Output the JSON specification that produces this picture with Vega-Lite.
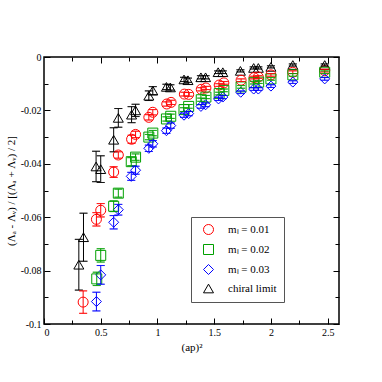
{
  "$schema": "https://vega.github.io/schema/vega-lite/v6.json",
  "autosize": "none",
  "width": 295,
  "height": 267,
  "padding": {"left": 44, "top": 57, "right": 43, "bottom": 58},
  "background": "white",
  "config": {
    "view": {"stroke": "#000", "strokeWidth": 1.5},
    "font": "Liberation Serif",
    "axis": {"grid": false, "domain": false, "ticks": true, "zindex": 2, "labelFont": "Liberation Serif", "titleFont": "Liberation Serif", "labelFontSize": 10, "titleFontSize": 11, "labelColor": "#000", "titleColor": "#000", "titleFontWeight": "normal", "tickColor": "#000", "tickWidth": 1, "tickOpacity": 1},
    "legend": {"labelFont": "Liberation Serif"}
  },
  "data": {"values": [
    {"s": "chiral limit", "x": 0.307, "y": -0.0778, "e": 0.0095},
    {"s": "chiral limit", "x": 0.348, "y": -0.0675, "e": 0.009},
    {"s": "chiral limit", "x": 0.459, "y": -0.041, "e": 0.0057},
    {"s": "chiral limit", "x": 0.5, "y": -0.042, "e": 0.005},
    {"s": "chiral limit", "x": 0.614, "y": -0.031, "e": 0.0045},
    {"s": "chiral limit", "x": 0.655, "y": -0.0228, "e": 0.0035},
    {"s": "chiral limit", "x": 0.772, "y": -0.0216, "e": 0.003},
    {"s": "chiral limit", "x": 0.807, "y": -0.02, "e": 0.0023},
    {"s": "chiral limit", "x": 0.924, "y": -0.0145, "e": 0.0018},
    {"s": "chiral limit", "x": 0.959, "y": -0.0126, "e": 0.0015},
    {"s": "chiral limit", "x": 1.079, "y": -0.0112, "e": 0.001},
    {"s": "chiral limit", "x": 1.114, "y": -0.0114, "e": 0.001},
    {"s": "chiral limit", "x": 1.234, "y": -0.0084, "e": 0.0008},
    {"s": "chiral limit", "x": 1.269, "y": -0.0087, "e": 0.0008},
    {"s": "chiral limit", "x": 1.383, "y": -0.0076, "e": 0.0006},
    {"s": "chiral limit", "x": 1.424, "y": -0.0076, "e": 0.0006},
    {"s": "chiral limit", "x": 1.535, "y": -0.0057, "e": 0.0005},
    {"s": "chiral limit", "x": 1.576, "y": -0.0057, "e": 0.0005},
    {"s": "chiral limit", "x": 1.731, "y": -0.0052, "e": 0.0004},
    {"s": "chiral limit", "x": 1.848, "y": -0.0041, "e": 0.0004},
    {"s": "chiral limit", "x": 1.889, "y": -0.0041, "e": 0.0004},
    {"s": "chiral limit", "x": 2.0, "y": -0.0037, "e": 0.0004},
    {"s": "chiral limit", "x": 2.193, "y": -0.003, "e": 0.0004},
    {"s": "chiral limit", "x": 2.474, "y": -0.003, "e": 0.0004},
    {"s": "mₗ = 0.01", "x": 0.345, "y": -0.0918, "e": 0.0042},
    {"s": "mₗ = 0.01", "x": 0.462, "y": -0.0608, "e": 0.0025},
    {"s": "mₗ = 0.01", "x": 0.5, "y": -0.0574, "e": 0.0025},
    {"s": "mₗ = 0.01", "x": 0.614, "y": -0.0431, "e": 0.002},
    {"s": "mₗ = 0.01", "x": 0.655, "y": -0.0367, "e": 0.0012},
    {"s": "mₗ = 0.01", "x": 0.772, "y": -0.0308, "e": 0.0015},
    {"s": "mₗ = 0.01", "x": 0.807, "y": -0.029, "e": 0.0012},
    {"s": "mₗ = 0.01", "x": 0.924, "y": -0.0226, "e": 0.001},
    {"s": "mₗ = 0.01", "x": 0.959, "y": -0.0207, "e": 0.001},
    {"s": "mₗ = 0.01", "x": 1.082, "y": -0.0176, "e": 0.0008},
    {"s": "mₗ = 0.01", "x": 1.12, "y": -0.017, "e": 0.0008},
    {"s": "mₗ = 0.01", "x": 1.237, "y": -0.0139, "e": 0.0007},
    {"s": "mₗ = 0.01", "x": 1.275, "y": -0.014, "e": 0.0007},
    {"s": "mₗ = 0.01", "x": 1.386, "y": -0.0121, "e": 0.0006},
    {"s": "mₗ = 0.01", "x": 1.427, "y": -0.0116, "e": 0.0006},
    {"s": "mₗ = 0.01", "x": 1.544, "y": -0.0105, "e": 0.0005},
    {"s": "mₗ = 0.01", "x": 1.585, "y": -0.0097, "e": 0.0005},
    {"s": "mₗ = 0.01", "x": 1.737, "y": -0.0087, "e": 0.0005},
    {"s": "mₗ = 0.01", "x": 1.851, "y": -0.0077, "e": 0.0005},
    {"s": "mₗ = 0.01", "x": 1.889, "y": -0.0075, "e": 0.0005},
    {"s": "mₗ = 0.01", "x": 2.0, "y": -0.0067, "e": 0.0005},
    {"s": "mₗ = 0.01", "x": 2.193, "y": -0.0057, "e": 0.0005},
    {"s": "mₗ = 0.01", "x": 2.474, "y": -0.0051, "e": 0.0005},
    {"s": "mₗ = 0.02", "x": 0.465, "y": -0.0831, "e": 0.0025},
    {"s": "mₗ = 0.02", "x": 0.5, "y": -0.0743, "e": 0.0025},
    {"s": "mₗ = 0.02", "x": 0.614, "y": -0.0559, "e": 0.002},
    {"s": "mₗ = 0.02", "x": 0.655, "y": -0.051, "e": 0.0015},
    {"s": "mₗ = 0.02", "x": 0.769, "y": -0.0392, "e": 0.0015},
    {"s": "mₗ = 0.02", "x": 0.807, "y": -0.0375, "e": 0.0012},
    {"s": "mₗ = 0.02", "x": 0.924, "y": -0.03, "e": 0.001},
    {"s": "mₗ = 0.02", "x": 0.959, "y": -0.0285, "e": 0.001},
    {"s": "mₗ = 0.02", "x": 1.079, "y": -0.0232, "e": 0.0008},
    {"s": "mₗ = 0.02", "x": 1.117, "y": -0.0222, "e": 0.0008},
    {"s": "mₗ = 0.02", "x": 1.234, "y": -0.0197, "e": 0.0007},
    {"s": "mₗ = 0.02", "x": 1.275, "y": -0.0185, "e": 0.0007},
    {"s": "mₗ = 0.02", "x": 1.386, "y": -0.016, "e": 0.0006},
    {"s": "mₗ = 0.02", "x": 1.427, "y": -0.015, "e": 0.0006},
    {"s": "mₗ = 0.02", "x": 1.544, "y": -0.0137, "e": 0.0005},
    {"s": "mₗ = 0.02", "x": 1.585, "y": -0.0125, "e": 0.0005},
    {"s": "mₗ = 0.02", "x": 1.737, "y": -0.0112, "e": 0.0005},
    {"s": "mₗ = 0.02", "x": 1.851, "y": -0.0096, "e": 0.0005},
    {"s": "mₗ = 0.02", "x": 1.892, "y": -0.0094, "e": 0.0005},
    {"s": "mₗ = 0.02", "x": 2.0, "y": -0.0082, "e": 0.0005},
    {"s": "mₗ = 0.02", "x": 2.193, "y": -0.0067, "e": 0.0005},
    {"s": "mₗ = 0.02", "x": 2.474, "y": -0.0057, "e": 0.0005},
    {"s": "mₗ = 0.03", "x": 0.462, "y": -0.0916, "e": 0.0035},
    {"s": "mₗ = 0.03", "x": 0.5, "y": -0.0816, "e": 0.0035},
    {"s": "mₗ = 0.03", "x": 0.614, "y": -0.0619, "e": 0.0025},
    {"s": "mₗ = 0.03", "x": 0.655, "y": -0.0572, "e": 0.002},
    {"s": "mₗ = 0.03", "x": 0.769, "y": -0.0447, "e": 0.0015},
    {"s": "mₗ = 0.03", "x": 0.807, "y": -0.0424, "e": 0.0015},
    {"s": "mₗ = 0.03", "x": 0.924, "y": -0.0342, "e": 0.0012},
    {"s": "mₗ = 0.03", "x": 0.959, "y": -0.0325, "e": 0.0012},
    {"s": "mₗ = 0.03", "x": 1.079, "y": -0.0276, "e": 0.001},
    {"s": "mₗ = 0.03", "x": 1.117, "y": -0.0257, "e": 0.001},
    {"s": "mₗ = 0.03", "x": 1.234, "y": -0.0218, "e": 0.0008},
    {"s": "mₗ = 0.03", "x": 1.275, "y": -0.0212, "e": 0.0008},
    {"s": "mₗ = 0.03", "x": 1.383, "y": -0.0185, "e": 0.0007},
    {"s": "mₗ = 0.03", "x": 1.424, "y": -0.0179, "e": 0.0007},
    {"s": "mₗ = 0.03", "x": 1.538, "y": -0.0157, "e": 0.0006},
    {"s": "mₗ = 0.03", "x": 1.576, "y": -0.015, "e": 0.0006},
    {"s": "mₗ = 0.03", "x": 1.734, "y": -0.0132, "e": 0.0005},
    {"s": "mₗ = 0.03", "x": 1.848, "y": -0.012, "e": 0.0005},
    {"s": "mₗ = 0.03", "x": 1.889, "y": -0.012, "e": 0.0005},
    {"s": "mₗ = 0.03", "x": 2.0, "y": -0.0109, "e": 0.0005},
    {"s": "mₗ = 0.03", "x": 2.193, "y": -0.0094, "e": 0.0005},
    {"s": "mₗ = 0.03", "x": 2.474, "y": -0.0082, "e": 0.0005}
  ]},
  "resolve": {"axis": {"x": "independent", "y": "independent"}},
  "layer": [
    {
      "mark": {"type": "point", "filled": false, "size": 100, "strokeWidth": 1, "opacity": 1},
      "encoding": {
        "x": {"field": "x", "type": "quantitative", "scale": {"domain": [0, 2.6], "nice": false, "zero": false},
              "axis": {"orient": "bottom", "title": "(ap)²", "values": [0, 0.5, 1, 1.5, 2, 2.5], "ticks": true, "tickSize": 6, "offset": -6, "labelPadding": 3, "titlePadding": 4, "labelExpr": "replace(format(datum.value, '~g'), '−', '-')"}},
        "y": {"field": "y", "type": "quantitative", "scale": {"domain": [-0.1, 0], "nice": false, "zero": false},
              "axis": {"orient": "left", "title": "(Λₐ - Λᵥ) / [(Λₐ + Λᵥ) / 2]", "values": [-0.1, -0.08, -0.06, -0.04, -0.02, 0], "ticks": true, "tickSize": 6, "offset": -6, "labelPadding": 3, "titlePadding": 4, "labelExpr": "replace(format(datum.value, '~g'), '−', '-')"}},
        "color": {"field": "s", "type": "nominal",
                  "scale": {"domain": ["mₗ = 0.01", "mₗ = 0.02", "mₗ = 0.03", "chiral limit"], "range": ["#ff0000", "#00a000", "#0000ff", "#000000"]},
                  "legend": {"title": null, "orient": "none", "legendX": 147, "legendY": 160, "strokeColor": "#555555", "padding": 7, "symbolOffset": 5, "labelFont": "Liberation Serif", "labelFontSize": 11, "labelColor": "#000", "symbolSize": 100, "symbolStrokeWidth": 1, "rowPadding": 5, "labelOffset": 14, "fillColor": "white"}},
        "shape": {"field": "s", "type": "nominal",
                  "scale": {"domain": ["mₗ = 0.01", "mₗ = 0.02", "mₗ = 0.03", "chiral limit"], "range": ["circle", "square", "diamond", "triangle-up"]},
                  "legend": {"title": null, "orient": "none", "legendX": 147, "legendY": 160, "strokeColor": "#555555", "padding": 7, "symbolOffset": 5, "labelFont": "Liberation Serif", "labelFontSize": 11, "labelColor": "#000", "symbolSize": 100, "symbolStrokeWidth": 1, "rowPadding": 5, "labelOffset": 14, "fillColor": "white"}}
      }
    },
    {
      "mark": {"type": "errorbar", "ticks": {"size": 8, "filled": false, "thickness": 0.01}, "thickness": 1},
      "encoding": {
        "x": {"field": "x", "type": "quantitative", "axis": {"orient": "top", "title": null, "labels": false, "values": [0.5, 1, 1.5, 2, 2.5], "ticks": true, "tickSize": 6, "offset": -6}},
        "y": {"field": "y", "type": "quantitative", "axis": {"orient": "right", "title": null, "labels": false, "values": [-0.1, -0.08, -0.06, -0.04, -0.02, 0], "ticks": true, "tickSize": 6, "offset": -6}},
        "yError": {"field": "e"},
        "color": {"field": "s", "type": "nominal"}
      }
    },
    {
      "mark": {"type": "point", "opacity": 0},
      "encoding": {
        "x": {"field": "x", "type": "quantitative", "axis": {"orient": "bottom", "title": null, "labels": false, "values": [0.25, 0.75, 1.25, 1.75, 2.25], "ticks": true, "tickSize": 4, "offset": -4}},
        "y": {"field": "y", "type": "quantitative", "axis": {"orient": "left", "title": null, "labels": false, "values": [-0.09, -0.07, -0.05, -0.03, -0.01], "ticks": true, "tickSize": 4, "offset": -4}}
      }
    },
    {
      "mark": {"type": "point", "opacity": 0},
      "encoding": {
        "x": {"field": "x", "type": "quantitative", "axis": {"orient": "top", "title": null, "labels": false, "values": [0.25, 0.75, 1.25, 1.75, 2.25], "ticks": true, "tickSize": 4, "offset": -4}},
        "y": {"field": "y", "type": "quantitative", "axis": {"orient": "right", "title": null, "labels": false, "values": [-0.09, -0.07, -0.05, -0.03, -0.01], "ticks": true, "tickSize": 4, "offset": -4}}
      }
    }
  ]
}
